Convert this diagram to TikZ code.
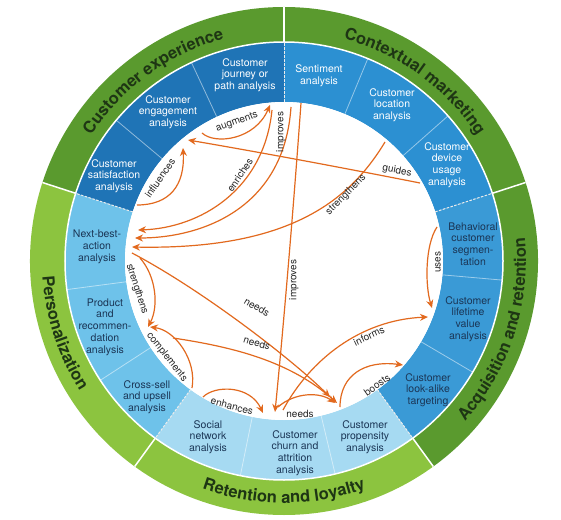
\documentclass[tikz,border=0pt]{standalone}
\usepackage{fontspec}
\setmainfont{TeX Gyre Heros}
\usetikzlibrary{arrows.meta,decorations.text}
\definecolor{gdark}{HTML}{5A9A2E}
\definecolor{glight}{HTML}{8CC43F}
\definecolor{bcx}{HTML}{1F74B6}
\definecolor{bcm}{HTML}{2C90D2}
\definecolor{bacq}{HTML}{3A9AD6}
\definecolor{bper}{HTML}{6EC2EA}
\definecolor{bret}{HTML}{A6DAF2}
\definecolor{arr}{HTML}{E2691E}
\definecolor{navy}{HTML}{1B3656}
\definecolor{gtext}{HTML}{1E3614}
\newcommand\ringfont{\color{gtext}\bfseries\fontsize{16.5}{16.5}\selectfont}
\tikzset{
  seg/.style={align=center, font=\fontsize{10.5}{11.7}\selectfont, inner sep=0pt},
  segw/.style={seg, text=white},
  segd/.style={seg, text=navy},
  rel/.style={draw=arr, line width=1.2pt, -{Stealth[length=8pt,width=7pt]}},
  lbl/.style={font=\fontsize{10}{10}\selectfont, text=black!85, inner sep=0pt},
  ringlbl/.style={decorate, decoration={text along path, text align=center, text={|\ringfont|#1}}}
}
\begin{document}
\begin{tikzpicture}[x=1pt,y=1pt]
\useasboundingbox (-284,-258) rectangle (277,261);
\fill[white] (-284,-258) rectangle (277,261);
% outer ring
\foreach \a/\b/\c in {90/162/gdark, 18/90/gdark, -54/18/gdark, -126/-54/glight, 162/234/glight}
  \fill[\c] (\a:219) -- (\a:254) arc[start angle=\a, end angle=\b, radius=254] -- (\b:219) arc[start angle=\b, end angle=\a, radius=219] -- cycle;
% inner ring
\foreach \a/\b/\c in {90/162/bcx, 18/90/bcm, -54/18/bacq, -126/-54/bret, 162/234/bper}
  \fill[\c] (\a:159) -- (\a:219) arc[start angle=\a, end angle=\b, radius=219] -- (\b:159) arc[start angle=\b, end angle=\a, radius=159] -- cycle;
\fill[white] (0,0) circle (159);
% separators
\draw[white, line width=1.5pt] (0,0) circle (219);
\foreach \a in {90,18,-54,-126,162} \draw[white, line width=1.5pt] (\a:219) -- (\a:254);
\foreach \a in {90,18,-54,-126,162} \draw[white!85!gray, line width=1pt, dash pattern=on 2.5pt off 1.5pt] (\a:159) -- (\a:219);
\foreach \a in {115,140,67.5,41.5,-5,-30.5,-76.5,-101.5,187.5,213} \draw[white, opacity=0.5, line width=0.8pt] (\a:159) -- (\a:219);
% ring labels
\path[ringlbl={Customer experience}] (162:230) arc[start angle=162, end angle=90, radius=230];
\path[ringlbl={Contextual marketing}] (90:230) arc[start angle=90, end angle=18, radius=230];
\path[ringlbl={Acquisition and retention}] (-54:242) arc[start angle=-54, end angle=18, radius=242];
\path[ringlbl={Retention and loyalty}] (-126:242) arc[start angle=-126, end angle=-54, radius=242];
\path[ringlbl={Personalization}] (162:242) arc[start angle=162, end angle=234, radius=242];
% segment texts
\node[segw] (journey) at (-39,186) {Customer\\journey or\\path analysis};
\node[segw] (engage) at (-116,149) {Customer\\engagement\\analysis};
\node[segw] (satisf) at (-170,85) {Customer\\satisfaction\\analysis};
\node[segw] (sentim) at (35,185) {Sentiment\\analysis};
\node[segw] (locat) at (108,156) {Customer\\location\\analysis};
\node[segw] (device) at (163,96) {Customer\\device\\usage\\analysis};
\node[segd] (behav) at (189,17) {Behavioral\\customer\\segmen-\\tation};
\node[segd] (lifet) at (184,-58) {Customer\\lifetime\\value\\analysis};
\node[segd] (lookal) at (144,-129) {Customer\\look-alike\\targeting};
\node[segd] (propen) at (81,-176) {Customer\\propensity\\analysis};
\node[segd] (churn) at (11,-192) {Customer\\churn and\\attrition\\analysis};
\node[segd] (social) at (-76,-176) {Social\\network\\analysis};
\node[segd] (cross) at (-137,-136) {Cross-sell\\and upsell\\analysis};
\node[segd] (product) at (-179,-66) {Product\\and\\recommen-\\dation\\analysis};
\node[segd] (nba) at (-187,14) {Next-best-\\action\\analysis};
% connector end points
\coordinate (aug-s) at (-82,128); \coordinate (aug-e) at (-14,156);
\coordinate (inf-s) at (-147,56); \coordinate (inf-e) at (-101,113);
\coordinate (enr-s) at (-12,151); \coordinate (enr-e) at (-146,31);
\coordinate (imp1-s) at (7,154); \coordinate (imp1-e) at (-149,23);
\coordinate (str1-s) at (101,119); \coordinate (str1-e) at (-152,14);
\coordinate (gui-s) at (136,78); \coordinate (gui-e) at (-96,121);
\coordinate (imp2-s) at (17,158); \coordinate (imp2-e) at (-9,-151);
\coordinate (use-s) at (153,34); \coordinate (use-e) at (148,-47);
\coordinate (inf2-s) at (-1,-149); \coordinate (inf2-e) at (144,-56);
\coordinate (bst-s) at (56,-146); \coordinate (bst-e) at (119,-104);
\coordinate (nd1-s) at (-6,-146); \coordinate (nd1-e) at (51,-142);
\coordinate (nd2-s) at (-152,8); \coordinate (nd2-e) at (46,-136);
\coordinate (nd3-s) at (-111,-77); \coordinate (nd3-e) at (53,-142);
\coordinate (str2-s) at (-144,3); \coordinate (str2-e) at (-136,-66);
\coordinate (cmp-s) at (-92,-127); \coordinate (cmp-e) at (-134,-66);
\coordinate (enh-s) at (-81,-136); \coordinate (enh-e) at (-21,-152);
% connectors
\draw[rel] (aug-s) .. controls (-69,116) and (-29,121) .. (aug-e);
\draw[rel] (inf-s) .. controls (-114,56) and (-99,76) .. (inf-e);
\draw[rel] (enr-s) .. controls (-20,71) and (-84,33) .. (enr-e);
\draw[rel] (imp1-s) .. controls (0,51) and (-84,23) .. (imp1-e);
\draw[rel] (str1-s) .. controls (66,61) and (6,11) .. (str1-e);
\draw[rel] (gui-s) .. controls (60,93) and (-20,108) .. (gui-e);
\draw[rel] (imp2-s) .. controls (10,60) and (0,-60) .. (imp2-e);
\draw[rel] (use-s) .. controls (141,16) and (141,-24) .. (use-e);
\draw[rel] (inf2-s) .. controls (26,-99) and (76,-59) .. (inf2-e);
\draw[rel] (bst-s) .. controls (56,-114) and (81,-99) .. (bst-e);
\draw[rel] (nd1-s) .. controls (11,-131) and (36,-131) .. (nd1-e);
\draw[rel] (nd2-s) .. controls (-80,-30) and (10,-100) .. (nd2-e);
\draw[rel] (nd3-s) .. controls (-51,-86) and (6,-100) .. (nd3-e);
\draw[rel] (str2-s) .. controls (-128,-15) and (-125,-45) .. (str2-e);
\draw[rel] (cmp-s) .. controls (-87,-99) and (-109,-69) .. (cmp-e);
\draw[rel] (enh-s) .. controls (-69,-124) and (-34,-124) .. (enh-e);
% labels
\node[lbl, rotate=20] (l-aug) at (-47,139) {augments};
\node[lbl, rotate=55] (l-inf) at (-124,83) {influences};
\node[lbl, rotate=56] (l-enr) at (-44,86) {enriches};
\node[lbl, rotate=90] (l-imp1) at (-3,129) {improves};
\node[lbl, rotate=45] (l-str1) at (62,66) {strengthens};
\node[lbl, rotate=-10] (l-gui) at (113,90) {guides};
\node[lbl, rotate=90] (l-imp2) at (10,-19) {improves};
\node[lbl, rotate=90] (l-use) at (154,-1) {uses};
\node[lbl, rotate=25] (l-inf2) at (85,-75) {informs};
\node[lbl, rotate=35] (l-bst) at (93,-124) {boosts};
\node[lbl] (l-nd1) at (16,-153) {needs};
\node[lbl, rotate=-30] (l-nd2) at (-27,-46) {needs};
\node[lbl, rotate=-17] (l-nd3) at (-27,-82) {needs};
\node[lbl, rotate=-72] (l-str2) at (-147,-28) {strengthens};
\node[lbl, rotate=-52] (l-cmp) at (-117,-96) {complements};
\node[lbl, rotate=-15] (l-enh) at (-52,-145) {enhances};
\end{tikzpicture}
\end{document}
